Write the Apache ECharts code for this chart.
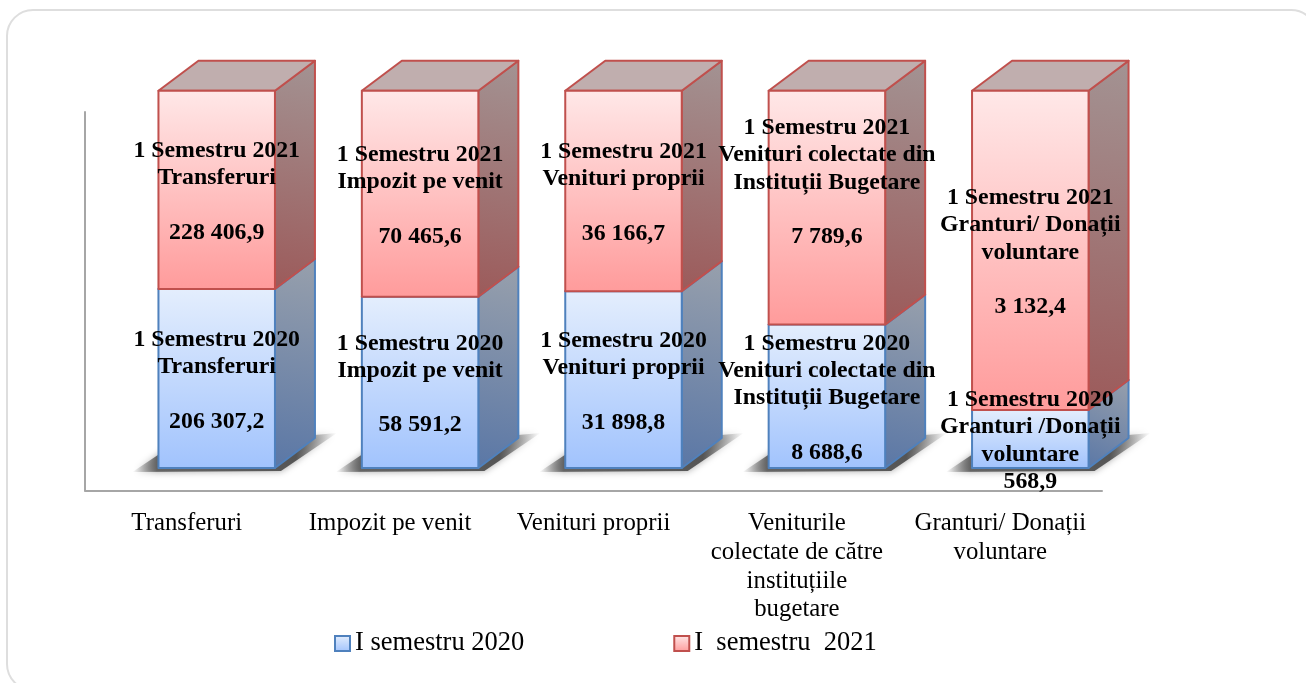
<!DOCTYPE html>
<html><head><meta charset="utf-8">
<style>html,body{margin:0;padding:0;background:#fff}#c{width:1306px;height:683px}</style>
<script src="https://cdn.jsdelivr.net/npm/echarts@6/dist/echarts.min.js"></script>
</head><body><div id="c"></div>
<script>
const categories = ['Transferuri','Impozit pe venit','Venituri proprii','Veniturile\ncolectate de către\ninstituțiile\nbugetare','Granturi/ Donații\nvoluntare'];
// Plotted heights (the fourth 2020 segment is drawn shorter than its printed label says)
const values2020 = [206307.2, 58591.2, 31898.8, 4775, 568.9];
const values2021 = [228406.9, 70465.6, 36166.7, 7789.6, 3132.4];
const labels2020 = [
 '1 Semestru 2020\nTransferuri\n\n206 307,2',
 '1 Semestru 2020\nImpozit pe venit\n\n58 591,2',
 '1 Semestru 2020\nVenituri proprii\n\n31 898,8',
 '1 Semestru 2020\nVenituri colectate din\nInstituții Bugetare\n\n8 688,6',
 '1 Semestru 2020\nGranturi /Donații\nvoluntare\n568,9'];
const labels2021 = [
 '1 Semestru 2021\nTransferuri\n\n228 406,9',
 '1 Semestru 2021\nImpozit pe venit\n\n70 465,6',
 '1 Semestru 2021\nVenituri proprii\n\n36 166,7',
 '1 Semestru 2021\nVenituri colectate din\nInstituții Bugetare\n\n7 789,6\n\n\u00a0',
 '1 Semestru 2021\nGranturi/ Donații\nvoluntare\n\n3 132,4'];
const seriesNames = ['I semestru 2020','I  semestru  2021'];

const FONT = '"Liberation Serif","Times New Roman",serif';
const BW = 116.5, OFF = 30, DX = 40, DY = 30;
const lin = (x,y,x2,y2,a,b)=>({type:'linear',x,y,x2,y2,colorStops:[{offset:0,color:a},{offset:1,color:b}]});
const looks = [
 {front:lin(0,0,0,1,'#e4eefd','#a1c3fd'), side:lin(1,0,0,1,'#98a0ac','#5a77a6'), top:'#b9c3d2', stroke:'#4f81bd'},
 {front:lin(0,0,0,1,'#ffe8e8','#ff9b9b'), side:lin(1,0,0,1,'#a39393','#9c5a5a'), top:'#c0aeae', stroke:'#c0504d'}
];
const share = (i,a)=>a[i]/(values2020[i]+values2021[i]);
const rows2020 = values2020.map((v,i)=>[i,0,share(i,values2020)]);
const rows2021 = values2021.map((v,i)=>[i,share(i,values2020),1]);

function barItem(look){
  return (params,api)=>{
    const i=api.value(0), c=api.coord([i,api.value(1)]), d=api.coord([i,api.value(2)]);
    const x0=c[0]+OFF-BW/2, x1=x0+BW, yb=c[1], yt=d[1];
    const st=(f)=>({fill:f,stroke:look.stroke,lineWidth:2,lineJoin:'round'});
    const ch=[
      {type:'polygon',shape:{points:[[x1,yb],[x1+DX,yb-DY],[x1+DX,yt-DY],[x1,yt]]},style:st(look.side)},
      {type:'polygon',shape:{points:[[x0,yt],[x0+DX,yt-DY],[x1+DX,yt-DY],[x1,yt]]},style:st(look.top)},
      {type:'rect',shape:{x:x0,y:yt,width:BW,height:yb-yt},style:st(look.front)}
    ];
    return {type:'group',children:ch};
  };
}
function shadowItem(params,api){
  const i=api.value(0), c=api.coord([i,0]);
  const x0=c[0]+OFF-BW/2, x1=x0+BW, y=c[1];
  const g={type:'linear',x:0,y:0,x2:1,y2:0,colorStops:[
    {offset:0,color:'rgba(110,110,110,0)'},{offset:.12,color:'rgba(95,95,95,.95)'},
    {offset:.8,color:'rgba(80,80,80,.95)'},{offset:1,color:'rgba(110,110,110,0)'}]};
  return {type:'polygon',shape:{points:[[x0-26,y+4],[x0+10,y-20],[x1+DX+22,y-DY-5],[x1+6,y+3]]},
    style:{fill:g,shadowBlur:7,shadowColor:'rgba(100,100,100,.6)'}};
}
function labelItem(texts){
  return (params,api)=>{
    const i=api.value(0), c=api.coord([i,(api.value(1)+api.value(2))/2]);
    return {type:'text',style:{x:c[0]+OFF,y:c[1]+2,text:texts[i],align:'center',verticalAlign:'middle',
      font:'bold 23.8px '+FONT,lineHeight:27.3,fill:'#000'},z2:100};
  };
}
const enc={x:0,y:1};
const chart=echarts.init(document.getElementById('c'),null,{renderer:'canvas'});
chart.setOption({
  animation:false,
  backgroundColor:'#fff',
  graphic:[{type:'rect',z:-1,shape:{x:7,y:10,width:1310,height:680,r:26},style:{fill:'#fff',stroke:'#dedede',lineWidth:2}}],
  grid:{left:85,top:112,width:1017,height:378.6,containLabel:false},
  xAxis:{type:'category',data:categories,axisTick:{show:false},
    axisLine:{onZero:false,lineStyle:{color:'#a6a6a6',width:2}},
    axisLabel:{fontFamily:FONT,fontSize:24.8,color:'#000',lineHeight:28.6,margin:19,interval:0}},
  yAxis:{type:'value',min:-0.06,max:0.9436,splitLine:{show:false},axisTick:{show:false},
    axisLabel:{show:false},axisLine:{show:true,lineStyle:{color:'#a6a6a6',width:2}}},
  legend:{left:334,top:630,padding:0,itemWidth:15,itemHeight:15,itemGap:149,itemStyle:{borderWidth:2},
    textStyle:{fontFamily:FONT,fontSize:26.5,color:'#000',padding:[0,0,0,0]},
    data:[{name:seriesNames[0],icon:'rect',itemStyle:{color:looks[0].front,borderColor:looks[0].stroke}},
          {name:seriesNames[1],icon:'rect',itemStyle:{color:looks[1].front,borderColor:looks[1].stroke}}]},
  series:[
    {type:'custom',name:'shadow',z:2,silent:true,clip:false,data:rows2020,encode:enc,renderItem:shadowItem},
    {type:'custom',name:seriesNames[0],z:3,clip:false,data:rows2020,encode:enc,renderItem:barItem(looks[0]),itemStyle:{color:'#a1c3fd'}},
    {type:'custom',name:seriesNames[1],z:4,clip:false,data:rows2021,encode:enc,renderItem:barItem(looks[1]),itemStyle:{color:'#ff9b9b'}},
    {type:'custom',name:'l2020',z:5,silent:true,clip:false,data:rows2020,encode:enc,renderItem:labelItem(labels2020)},
    {type:'custom',name:'l2021',z:6,silent:true,clip:false,data:rows2021,encode:enc,renderItem:labelItem(labels2021)}
  ]
});
</script></body></html>
